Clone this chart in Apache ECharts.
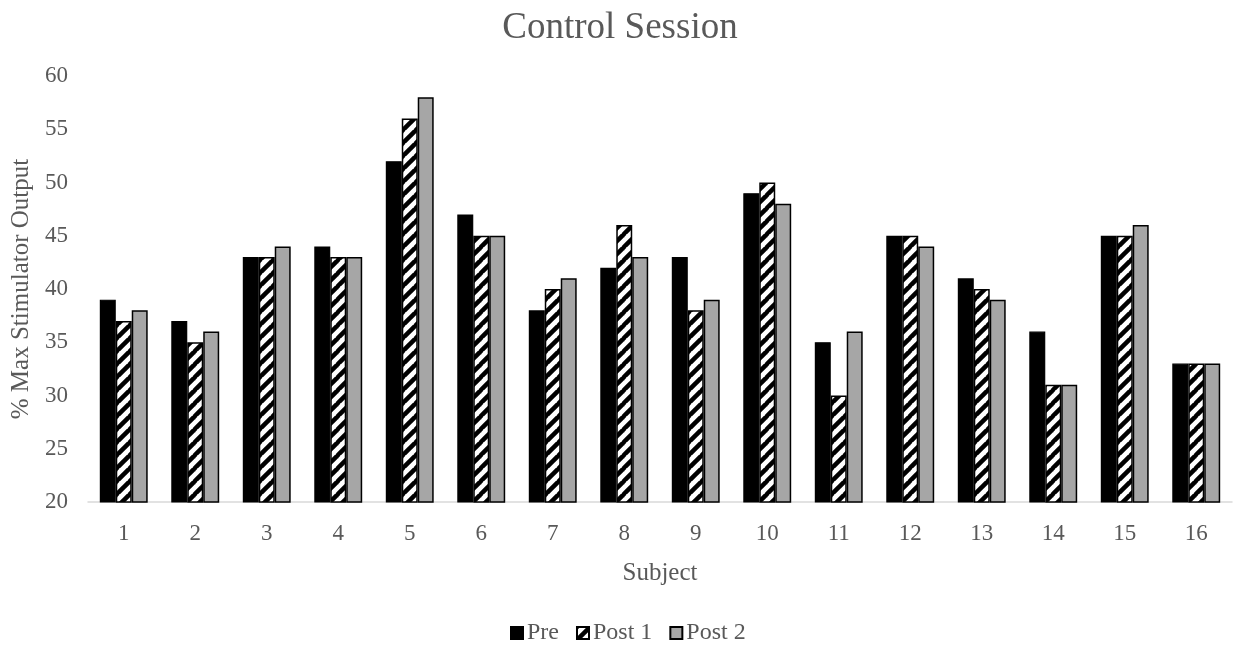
<!DOCTYPE html>
<html>
<head>
<meta charset="utf-8">
<script src="https://cdn.jsdelivr.net/npm/echarts@6/dist/echarts.min.js"></script>
<style>html,body{margin:0;padding:0;background:#fff;}#c{width:1240px;height:656px;}</style>
</head>
<body>
<div id="c"></div>
<script>
const subjects = ['1','2','3','4','5','6','7','8','9','10','11','12','13','14','15','16'];
const pre   = [39,37,43,44,52,47,38,42,43,49,35,45,41,36,45,33];
const post1 = [37,35,43,43,56,45,40,46,38,50,30,45,40,31,45,33];
const post2 = [38,36,44,43,58,45,41,43,39,48,36,44,39,31,46,33];
const yTicks = [20,25,30,35,40,45,50,55,60];

function hatch() {
  const s = 13;
  const c = document.createElement('canvas');
  c.width = s; c.height = s;
  const g = c.getContext('2d');
  g.fillStyle = '#fff'; g.fillRect(0,0,s,s);
  g.strokeStyle = '#000'; g.lineWidth = 4.5;
  for (let k = -1; k <= 1; k++) {
    g.beginPath();
    g.moveTo(k*s - 1, s + 1);
    g.lineTo(k*s + s + 1, -1);
    g.stroke();
  }
  return c;
}
const font = 'Liberation Serif, Times New Roman, serif';
const txt = '#595959';
const chart = echarts.init(document.getElementById('c'));
chart.setOption({
  animation: false,
  backgroundColor: '#fff',
  title: { text: 'Control Session', left: 'center', top: 5,
    textStyle: { fontFamily: font, fontSize: 37, fontWeight: 'normal', color: txt } },
  legend: { bottom: 6, left: 505, icon: 'rect', itemWidth: 12, itemHeight: 12, itemGap: 17,
    textStyle: { fontFamily: font, fontSize: 24, color: txt, padding: [0,0,0,-1] },
    data: ['Pre','Post 1','Post 2'] },
  grid: { left: 88, right: 8, top: 76, bottom: 154, containLabel: false },
  xAxis: { type: 'category', data: subjects,
    name: 'Subject', nameLocation: 'middle', nameGap: 59,
    nameTextStyle: { fontFamily: font, fontSize: 25, color: txt },
    axisLine: { lineStyle: { color: '#d9d9d9', width: 1.5 } },
    axisTick: { show: false },
    axisLabel: { fontFamily: font, fontSize: 23, color: txt, margin: 20 } },
  yAxis: { type: 'value', min: yTicks[0], max: yTicks[yTicks.length-1], interval: 5,
    name: '% Max Stimulator Output', nameLocation: 'middle', nameGap: 51,
    nameTextStyle: { fontFamily: font, fontSize: 25, color: txt },
    axisLine: { show: false }, axisTick: { show: false }, splitLine: { show: false },
    axisLabel: { fontFamily: font, fontSize: 23, color: txt, margin: 20 } },
  series: [
    { name: 'Pre', type: 'bar', data: pre, barGap: '0%', barCategoryGap: '33%',
      itemStyle: { color: '#000', borderColor: '#000', borderWidth: 1.2 } },
    { name: 'Post 1', type: 'bar', data: post1, barGap: '0%', barCategoryGap: '33%',
      itemStyle: { color: { image: hatch(), repeat: 'repeat' }, borderColor: '#000', borderWidth: 1.5 } },
    { name: 'Post 2', type: 'bar', data: post2, barGap: '0%', barCategoryGap: '33%',
      itemStyle: { color: '#a6a6a6', borderColor: '#000', borderWidth: 1.5 } }
  ]
});
</script>
</body>
</html>
